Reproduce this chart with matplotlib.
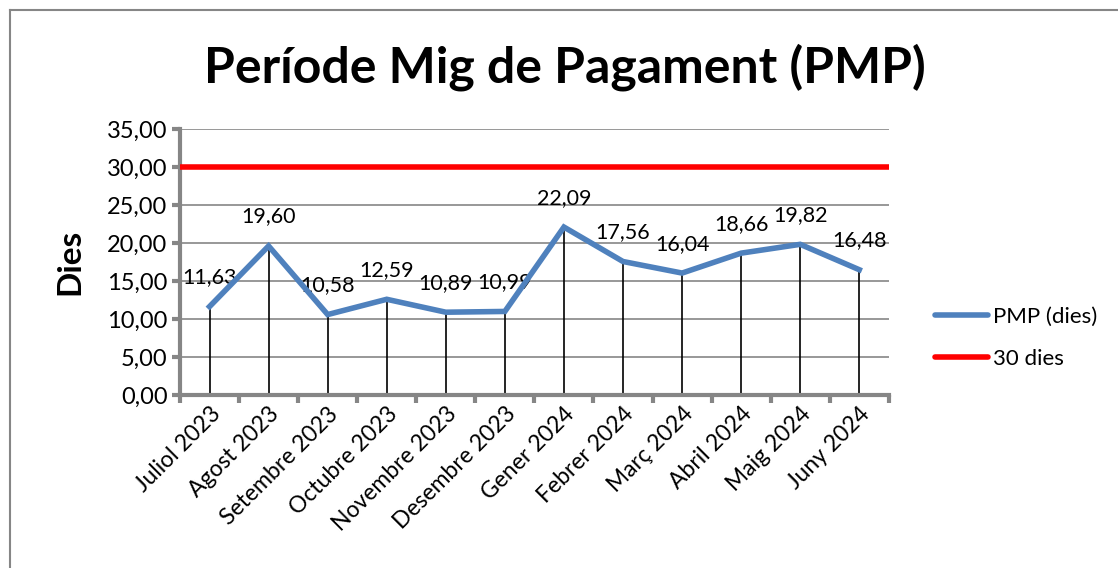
import matplotlib.pyplot as plt
from matplotlib.lines import Line2D
import numpy as np

months = ["Juliol 2023", "Agost 2023", "Setembre 2023", "Octubre 2023",
          "Novembre 2023", "Desembre 2023", "Gener 2024", "Febrer 2024",
          "Març 2024", "Abril 2024", "Maig 2024", "Juny 2024"]
pmp = [11.63, 19.60, 10.58, 12.59, 10.89, 10.99, 22.09, 17.56, 16.04, 18.66, 19.82, 16.48]
limit = 30
y_ticks = [0, 5, 10, 15, 20, 25, 30, 35]

plt.rcParams['font.family'] = ['Lato', 'DejaVu Sans']
GREY = "#868686"

fig = plt.figure(figsize=(11.18, 5.68), dpi=100)
ax = fig.add_axes([0.161, 0.3046, 0.634, 0.4684])

x = np.arange(len(months))
ax.set_xlim(-0.5, len(months) - 0.5)
ax.set_ylim(0, 35)

for yv in y_ticks[1:]:
    ax.axhline(yv, color=GREY, lw=1.2, zorder=1)

ax.vlines(x, 0, pmp, color="black", lw=1.2, zorder=2)
ax.axhline(limit, color="#ff0000", lw=4, solid_capstyle="round", zorder=3)
ax.plot(x, pmp, color="#4f81bd", lw=4, solid_joinstyle="miter", zorder=4)

for xi, v in zip(x, pmp):
    ax.annotate(f"{v:.2f}".replace(".", ","), (xi, v), xytext=(0, 14),
                textcoords="offset points", ha="center", va="bottom", fontsize=15.5)

ax.set_yticks(y_ticks)
ax.set_yticklabels([f"{v:.2f}".replace(".", ",") for v in y_ticks], fontsize=17)
ax.set_xticks(x)
ax.set_xticklabels(months, rotation=45, ha="right", va="top",
                   rotation_mode="anchor", fontsize=16.5)
ax.set_xticks(np.arange(-0.5, len(months)), minor=True)
ax.tick_params(axis="x", which="major", length=0, pad=6)
ax.tick_params(axis="x", which="minor", length=6, width=3, color=GREY)
ax.tick_params(axis="y", length=6, width=3, color=GREY, pad=3)

for side in ["top", "right"]:
    ax.spines[side].set_visible(False)
for side in ["left", "bottom"]:
    ax.spines[side].set_color(GREY)
    ax.spines[side].set_linewidth(3)

ax.set_ylabel("Dies", fontsize=24, fontweight="bold", labelpad=16)
fig.text(0.505, 0.882, "Període Mig de Pagament (PMP)", ha="center", va="center",
         fontsize=36, fontweight="bold")

handles = [Line2D([], [], color="#4f81bd", lw=4, solid_capstyle="round"),
           Line2D([], [], color="#ff0000", lw=4, solid_capstyle="round")]
fig.legend(handles, ["PMP (dies)", "30 dies"], loc="center left",
           bbox_to_anchor=(0.818, 0.405), frameon=False, fontsize=16,
           handlelength=2.4, handletextpad=0.25, labelspacing=1.0)

# chart area border (top and left edges visible)
fig.add_artist(Line2D([0.009, 1.0], [0.982, 0.982], transform=fig.transFigure,
                      color=GREY, lw=1.5))
fig.add_artist(Line2D([0.009, 0.009], [0.0, 0.982], transform=fig.transFigure,
                      color=GREY, lw=1.5))

fig.savefig("out.png", dpi=100)
